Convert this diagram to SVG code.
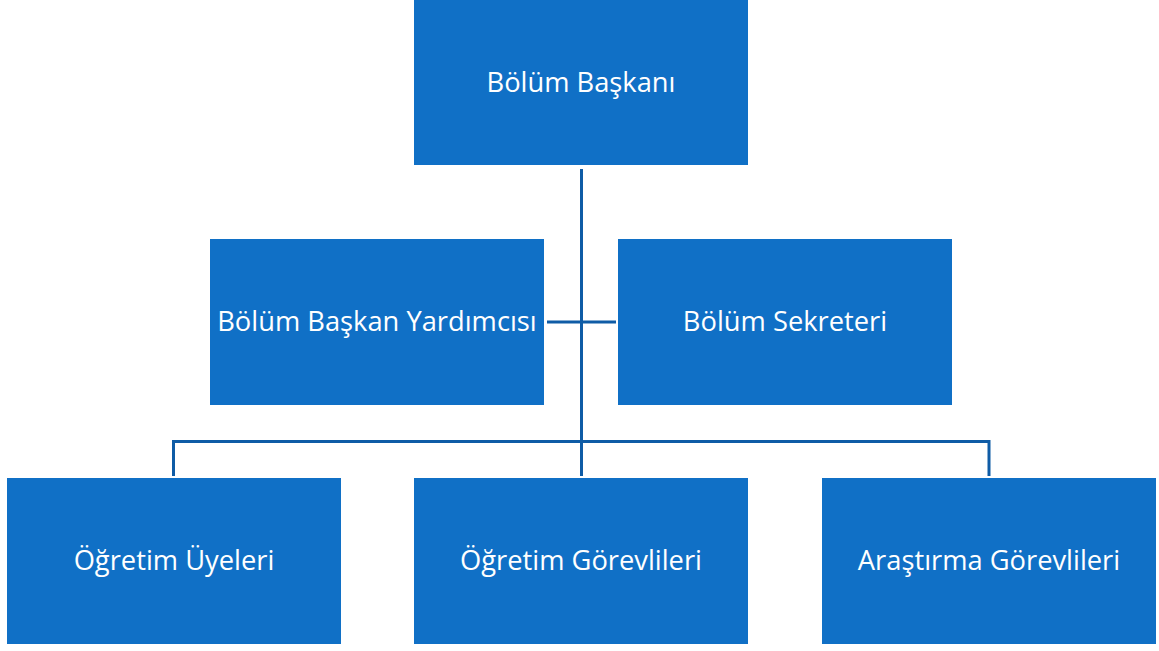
<svg xmlns="http://www.w3.org/2000/svg" width="1159" height="651" viewBox="0 0 1159 651">
<style>
.box{fill:#1070C6;}
.lbl{fill:#FFFFFF;font-family:"Open Sans","Noto Sans","DejaVu Sans",sans-serif;font-size:27.3px;text-anchor:middle;}
.conn{stroke:#0F5CA6;stroke-width:3;fill:none;}
</style>
<rect width="1159" height="651" fill="#FFFFFF"/>
<g id="connectors">
<line class="conn" x1="581.5" y1="169" x2="581.5" y2="476"/>
<line class="conn" x1="547" y1="322" x2="616" y2="322"/>
<polyline class="conn" points="173.5,476 173.5,441.5 989,441.5 989,476"/>
</g>
<g id="n-baskan"><rect class="box" x="414" y="0" width="334" height="165"/><text class="lbl" x="581" y="92">Bölüm Başkanı</text></g>
<g id="n-yardimci"><rect class="box" x="210" y="239" width="334" height="166"/><text class="lbl" x="377" y="331">Bölüm Başkan Yardımcısı</text></g>
<g id="n-sekreter"><rect class="box" x="618" y="239" width="334" height="166"/><text class="lbl" x="785" y="331">Bölüm Sekreteri</text></g>
<g id="n-uyeler"><rect class="box" x="7" y="478" width="334" height="166"/><text class="lbl" x="174" y="570">Öğretim Üyeleri</text></g>
<g id="n-gorevliler"><rect class="box" x="414" y="478" width="334" height="166"/><text class="lbl" x="581" y="570">Öğretim Görevlileri</text></g>
<g id="n-arastirma"><rect class="box" x="822" y="478" width="334" height="166"/><text class="lbl" x="989" y="570">Araştırma Görevlileri</text></g>
</svg>
